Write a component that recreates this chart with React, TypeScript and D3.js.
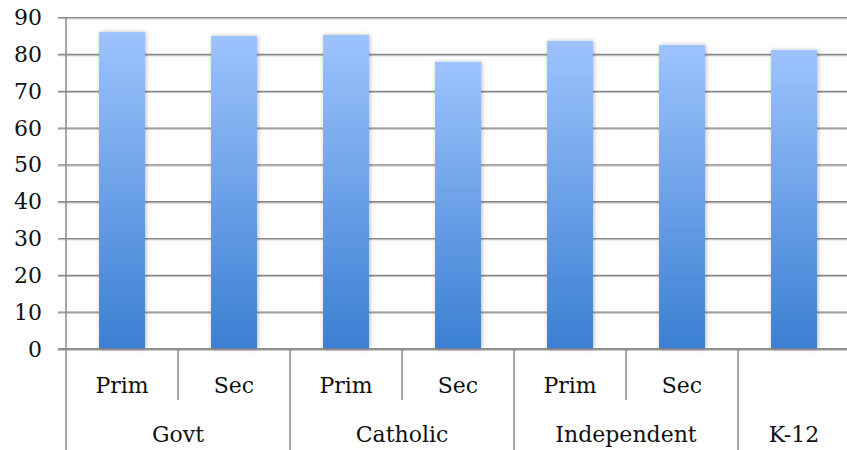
import React from "react";
import * as d3 from "d3";

// School sectors and their levels, one bar per level
const groups = ["Govt", "Catholic", "Independent", "K-12"];
const levels = ["Prim", "Sec", "Prim", "Sec", "Prim", "Sec", ""];
const levelGroup = [0, 0, 1, 1, 2, 2, 3];
const values = [86.1, 85.0, 85.3, 78.0, 83.7, 82.6, 81.2];
const yTicks = [0, 10, 20, 30, 40, 50, 60, 70, 80, 90];

const W = 847;
const H = 450;
const FONT = "'DejaVu Serif', serif";

export default function App() {
  const slots = d3.range(values.length);
  const x = d3.scaleBand<number>().domain(slots).range([66, 850]).padding(0);
  const y = d3.scaleLinear().domain([0, 90]).range([349, 17.7]);
  const barW = x.bandwidth() * 0.41;
  const bottom = y(0);

  // group extents (first slot start to last slot end)
  const groupSpans = groups.map((g, gi) => {
    const idx = slots.filter((i) => levelGroup[i] === gi);
    const x0 = x(idx[0])!;
    const x1 = x(idx[idx.length - 1])! + x.bandwidth();
    return { g, x0, x1 };
  });

  return (
    <div style={{ position: "fixed", left: 0, top: 0, background: "#fff" }}>
      <svg width={W} height={H} style={{ display: "block" }}>
        <defs>
          <linearGradient id="barFill" x1="0" y1="0" x2="0" y2="1">
            <stop offset="0%" stopColor="#9dc3fd" />
            <stop offset="100%" stopColor="#3a7fd2" />
          </linearGradient>
          <filter id="barShadow" x="-30%" y="-10%" width="160%" height="120%">
            <feDropShadow dx="1" dy="0" stdDeviation="2.2" floodColor="#000" floodOpacity="0.28" />
          </filter>
          <filter id="lineShadow" x="-5%" y="-200%" width="110%" height="500%">
            <feDropShadow dx="0" dy="1" stdDeviation="0.6" floodColor="#000" floodOpacity="0.25" />
          </filter>
        </defs>

        {/* horizontal gridlines with small ticks left of the axis */}
        <g filter="url(#lineShadow)">
          {yTicks.map((t) => (
            <line
              key={t}
              x1={58}
              x2={W}
              y1={y(t)}
              y2={y(t)}
              stroke="#8a8a8a"
              strokeWidth={t === 0 ? 1.6 : 1.3}
            />
          ))}
        </g>

        {/* y tick labels */}
        {yTicks.map((t) => (
          <text
            key={"l" + t}
            x={42}
            y={y(t)}
            textAnchor="end"
            dominantBaseline="central"
            fontFamily={FONT}
            fontSize={22}
            fill="#111"
          >
            {t}
          </text>
        ))}

        {/* bars */}
        {values.map((v, i) => {
          const cx = x(i)! + x.bandwidth() / 2;
          return (
            <rect
              key={"b" + i}
              x={cx - barW / 2}
              y={y(v)}
              width={barW}
              height={bottom - y(v)}
              fill="url(#barFill)"
              filter="url(#barShadow)"
            />
          );
        })}

        {/* re-draw the baseline over the bar shadows */}
        <line x1={58} x2={W} y1={bottom} y2={bottom} stroke="#8a8a8a" strokeWidth={1.6} />

        {/* y axis line, running down through the category rows */}
        <line x1={66} x2={66} y1={y(90)} y2={H} stroke="#8a8a8a" strokeWidth={1.5} />

        {/* level dividers (within a group) */}
        {slots.slice(1).map((i) => {
          const sameGroup = levelGroup[i] === levelGroup[i - 1];
          return (
            <line
              key={"d" + i}
              x1={x(i)!}
              x2={x(i)!}
              y1={bottom}
              y2={sameGroup ? 400 : H}
              stroke="#8a8a8a"
              strokeWidth={1.5}
            />
          );
        })}

        {/* level labels */}
        {levels.map((l, i) =>
          l ? (
            <text
              key={"t" + i}
              x={x(i)! + x.bandwidth() / 2}
              y={392.5}
              textAnchor="middle"
              fontFamily={FONT}
              fontSize={22}
              fill="#111"
            >
              {l}
            </text>
          ) : null
        )}

        {/* group labels */}
        {groupSpans.map(({ g, x0, x1 }) => (
          <text
            key={g}
            x={(x0 + x1) / 2}
            y={441.5}
            textAnchor="middle"
            fontFamily={FONT}
            fontSize={22}
            fill="#111"
          >
            {g}
          </text>
        ))}
      </svg>
    </div>
  );
}
